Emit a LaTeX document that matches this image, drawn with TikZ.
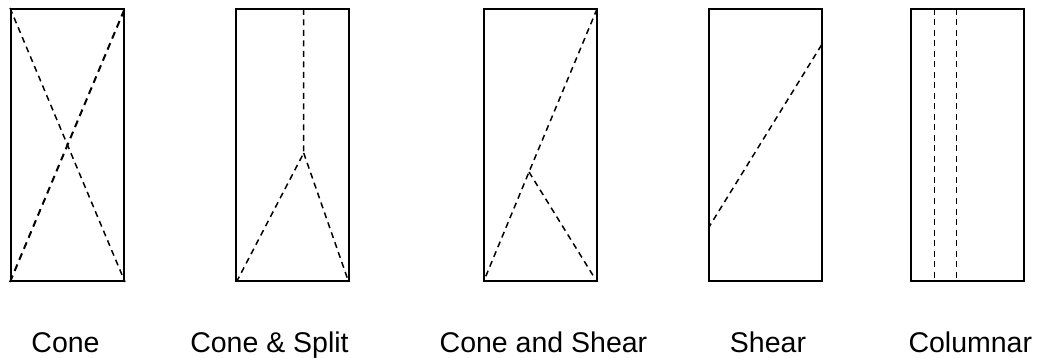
\documentclass[tikz,border=0pt]{standalone}
\usepackage{fontspec}
\setmainfont{Liberation Sans}
\begin{document}
\begin{tikzpicture}[x=1pt,y=-1pt,
  panel/.style={draw,line width=2pt,rectangle,inner sep=0pt,minimum width=113pt,minimum height=272pt},
  crack/.style={line width=1.5pt,dash pattern=on 6pt off 4.5pt},
  thickcrack/.style={line width=2pt,dash pattern=on 7pt off 5pt},
  lbl/.style={anchor=base,inner sep=0pt,font=\fontsize{28.5}{30}\selectfont}]
\useasboundingbox (0,0) rectangle (1038,358);
% panels
\node[panel] (p1) at (67.5,145) {};
\node[panel] (p2) at (292.75,145) {};
\node[panel] (p3) at (540.5,145) {};
\node[panel] (p4) at (765.25,145) {};
\node[panel] (p5) at (967.75,145) {};
% Cone
\draw[crack] (p1.north west) -- (p1.south east);
\draw[thickcrack] (p1.south west) -- (p1.north east);
% Cone & Split
\coordinate (s0) at (303.7,9);
\coordinate (s1) at (303.7,153);
\coordinate (s2) at (237.5,280);
\coordinate (s3) at (348,280);
\draw[crack] (s0) -- (s1) -- (s2);
\draw[crack] (s1) -- (s3);
% Cone and Shear
\coordinate (c0) at (597,9);
\coordinate (c1) at (529,172);
\coordinate (c2) at (485.5,277);
\coordinate (c3) at (594,277);
\draw[crack] (c0) -- (c1) -- (c2);
\draw[crack] (c1) -- (c3);
% Shear
\coordinate (h0) at (821.5,45);
\coordinate (h1) at (709,227);
\draw[crack] (h0) -- (h1);
% Columnar
\coordinate (k0) at (934.3,9);
\coordinate (k1) at (934.3,281);
\coordinate (k2) at (956.7,9);
\coordinate (k3) at (956.7,281);
\draw[crack] (k0) -- (k1);
\draw[crack] (k2) -- (k3);
% labels
\node[lbl] (l1) at (65.5,352) {Cone};
\node[lbl] (l2) at (269.5,352) {Cone \& Split};
\node[lbl] (l3) at (543.5,352) {Cone and Shear};
\node[lbl] (l4) at (768,352) {Shear};
\node[lbl] (l5) at (970.3,352) {Columnar};
\end{tikzpicture}
\end{document}
